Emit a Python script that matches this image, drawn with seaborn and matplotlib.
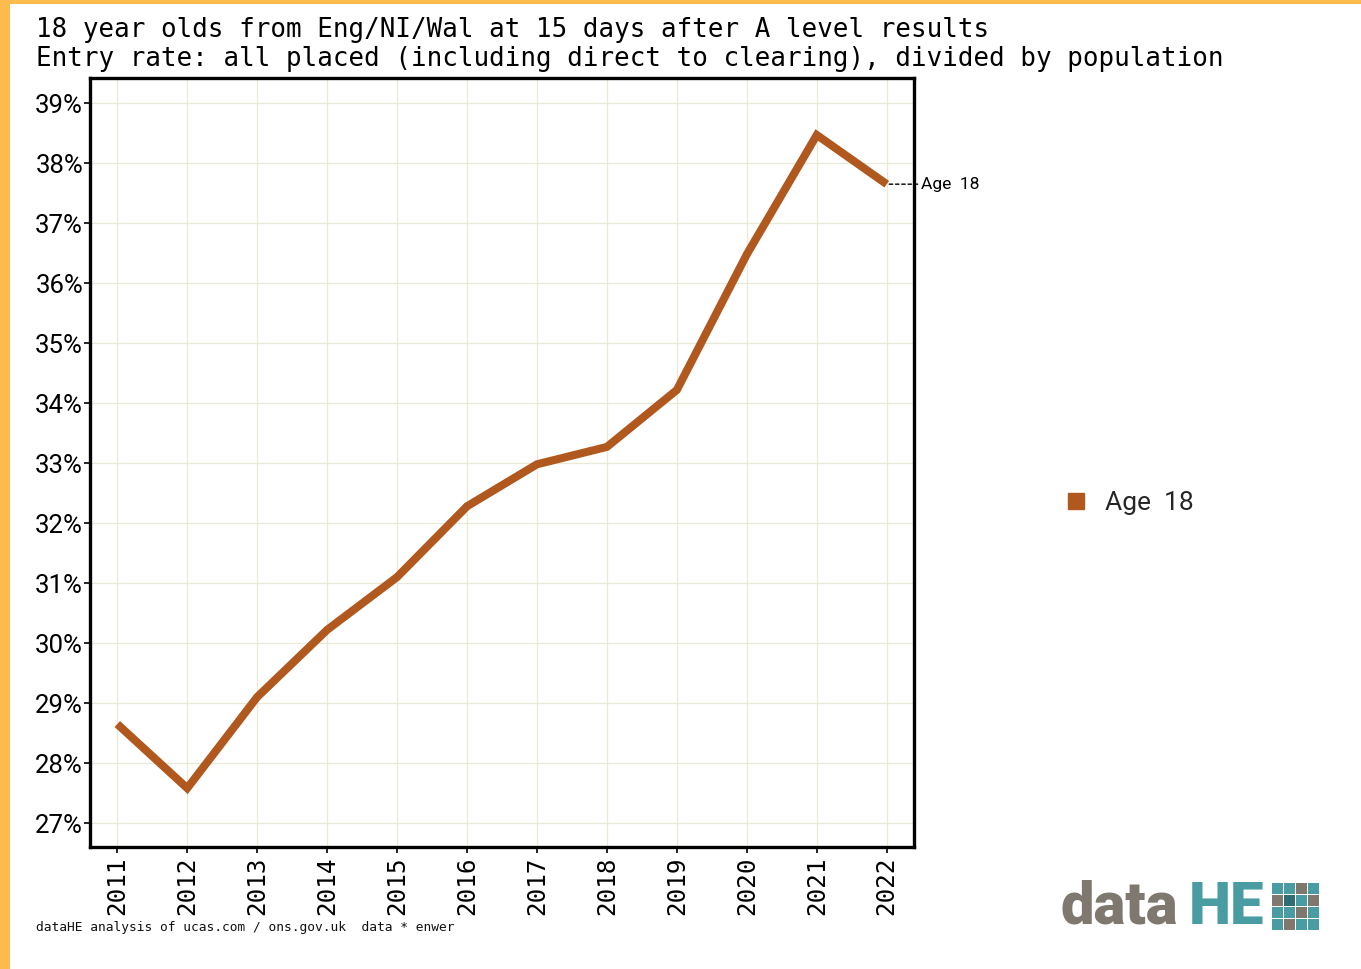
import matplotlib
matplotlib.use("Agg")
import matplotlib.pyplot as plt
import seaborn as sns
import pandas as pd
from matplotlib.patches import Rectangle
from matplotlib.lines import Line2D
from matplotlib.ticker import FuncFormatter, MultipleLocator

years = [2011, 2012, 2013, 2014, 2015, 2016, 2017, 2018, 2019, 2020, 2021, 2022]
entry_rate = [28.65, 27.58, 29.10, 30.22, 31.10, 32.28, 32.98, 33.27, 34.22, 36.48, 38.47, 37.65]
series_name = "Age  18"
title_lines = ["18 year olds from Eng/NI/Wal at 15 days after A level results",
               "Entry rate: all placed (including direct to clearing), divided by population"]
footer = "dataHE analysis of ucas.com / ons.gov.uk  data * enwer"

df = pd.DataFrame({"year": years, "rate": entry_rate, "series": series_name})

sns.set_theme(style="white")
plt.rcParams['font.family'] = ['Roboto', 'DejaVu Sans']

line_col = "#B0581E"
W, H = 1361, 969
fig = plt.figure(figsize=(W / 100, H / 100), dpi=100)
fig.patch.set_facecolor("white")

ax = fig.add_axes([90 / W, 1 - 847 / H, (914 - 90) / W, (847 - 78) / H])
sns.lineplot(data=df, x="year", y="rate", color=line_col, linewidth=5.8,
             ax=ax, legend=False, solid_capstyle="butt", solid_joinstyle="miter")

ax.set_xlim(2010.61, 2022.39)
ax.set_ylim(26.6, 39.42)
ax.set_xticks(years)
ax.set_xticklabels([str(y) for y in years], rotation=90,
                   family=['DejaVu Sans Mono'], fontsize=17.5)
ax.yaxis.set_major_locator(MultipleLocator(1))
ax.yaxis.set_major_formatter(FuncFormatter(lambda v, p: f"{v:.0f}%"))
ax.tick_params(axis="y", labelsize=18.5, length=4, width=1.2, direction="out",
               left=True, pad=1, colors="black")
ax.tick_params(axis="x", length=4, width=1.2, direction="out", bottom=True,
               pad=3, colors="black")
ax.set_xlabel("")
ax.set_ylabel("")
ax.grid(True, color="#EAE8D6", linewidth=0.9)
for s in ax.spines.values():
    s.set_visible(True)
    s.set_color("black")
    s.set_linewidth(2.4)

# end label
last_x, last_y = years[-1], entry_rate[-1]
ax.annotate(series_name, xy=(last_x, last_y), xytext=((921 - 90) / (914 - 90), last_y),
            textcoords=("axes fraction", "data"), annotation_clip=False,
            va="center", ha="left", fontsize=12.5, color="black",
            arrowprops=dict(arrowstyle="-", linestyle=(0, (2.5, 2)), color="black",
                            lw=1.0, shrinkA=0, shrinkB=1))

# legend
handle = Line2D([], [], marker="s", color="none", markerfacecolor=line_col,
                markeredgecolor=line_col, markersize=11)
fig.legend([handle], [series_name], loc="center left",
           bbox_to_anchor=(1039 / W, 1 - 503 / H), frameon=False,
           fontsize=19, handletextpad=0.6, handlelength=1.0)

# titles
fig.text(36 / W, 1 - 17 / H, "\n".join(title_lines), ha="left", va="top",
         family=['DejaVu Sans Mono'], fontsize=18.6, linespacing=1.17, color="black")
fig.text(36 / W, 1 - 927 / H, footer, ha="left", va="center",
         family=['DejaVu Sans Mono'], fontsize=9.3, color="#111111")

# orange frame
fig.patches.append(Rectangle((0, 0), 10 / W, 1, transform=fig.transFigure,
                             facecolor="#FDBB4E", linewidth=0, zorder=10))
fig.patches.append(Rectangle((0, 1 - 4 / H), 1, 4 / H, transform=fig.transFigure,
                             facecolor="#FDBB4E", linewidth=0, zorder=10))

# logo
gray = "#7F786E"
teal = "#4A9CA3"
dark = "#2E6E73"
fig.text(1061 / W, 1 - 908 / H, "data", ha="left", va="center", fontsize=43,
         fontweight="heavy", color=gray, family=['Roboto', 'DejaVu Sans'])
fig.text(1189 / W, 1 - 908 / H, "HE", ha="left", va="center", fontsize=43,
         fontweight="heavy", color=teal, family=['Roboto', 'DejaVu Sans'])
pattern = [[teal, teal, gray, teal],
           [gray, dark, teal, gray],
           [teal, teal, gray, teal],
           [teal, gray, teal, teal]]
cell = 10.5
gap = 1.5
x0, ytop = 1272, 883
for r, row in enumerate(pattern):
    for c, col in enumerate(row):
        x = x0 + c * (cell + gap)
        y = ytop + r * (cell + gap)
        fig.patches.append(Rectangle((x / W, 1 - (y + cell) / H), cell / W, cell / H,
                                     transform=fig.transFigure, facecolor=col,
                                     linewidth=0))

fig.savefig("out.png", dpi=100, facecolor="white")
